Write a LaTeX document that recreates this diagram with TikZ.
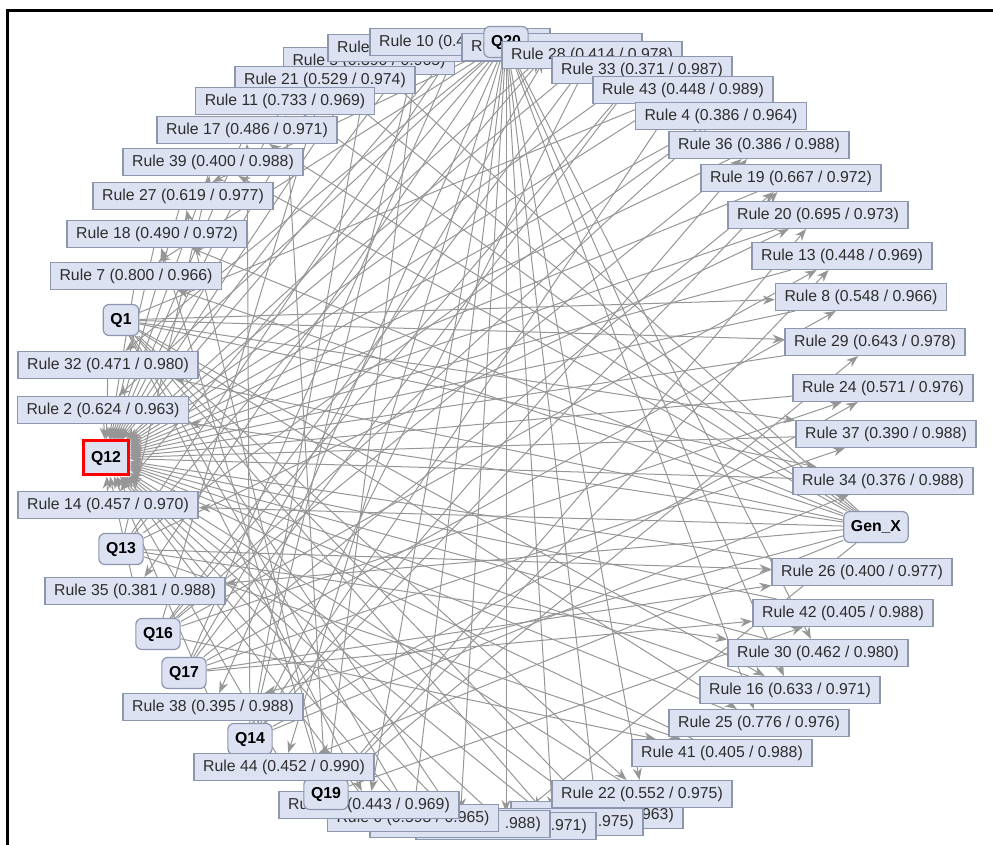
\documentclass[tikz,border=0pt]{standalone}
\usepackage{fontspec}
\setmainfont{Liberation Sans}
\usetikzlibrary{arrows.meta,backgrounds}
\definecolor{boxfill}{RGB}{221,226,242}
\definecolor{boxline}{RGB}{140,150,175}
\definecolor{edgegray}{RGB}{150,150,150}
\definecolor{textgray}{RGB}{45,45,45}
\begin{document}
\begin{tikzpicture}[x=0.5pt,y=-0.5pt,
    rulebox/.style={draw=boxline, fill=boxfill, line width=0.6pt, text=textgray,
      font=\fontsize{7.9}{9}\selectfont, inner xsep=4.6pt, inner ysep=2.8pt,
      text height=6pt, text depth=1.8pt},
    qbox/.style={rulebox, rounded corners=3pt, text=black,
      font=\fontsize{7.9}{9}\selectfont\bfseries, inner xsep=3.6pt, minimum height=15.5pt},
    cutright/.style={text width=80.8pt, align=right},
    cutleft/.style={text width=80.8pt, align=left},
    edge/.style={draw=edgegray, line width=0.5pt, -{Stealth[length=6pt,width=4.5pt]}}]
  \useasboundingbox (0,0) rectangle (993,845);

  % Frame
  \draw[line width=1.5pt] (7,845) -- (7,11) -- (993,11);

  % Top cluster
  \node[rulebox] (r5) at (369,61) {Rule 5 (0.390 / 0.965)};
  \node[rulebox, cutleft] (r9) at (418,48) {Rule};
  \node[rulebox] (r10) at (460,42) {Rule 10 (0.448 / 0.970)};
  \node[rulebox, cutleft] (r1) at (552,47) {Rule};
  \node[qbox] (q20) at (506,42) {Q20};
  \node[rulebox] (r28) at (592,55) {Rule 28 (0.414 / 0.978)};
  \node[rulebox] (r33) at (642,70) {Rule 33 (0.371 / 0.987)};
  \node[rulebox] (r43) at (683,90) {Rule 43 (0.448 / 0.989)};
  \node[rulebox] (r4) at (721,116) {Rule 4 (0.386 / 0.964)};
  \node[rulebox] (r21) at (325,80) {Rule 21 (0.529 / 0.974)};
  \node[rulebox] (r11) at (285,101) {Rule 11 (0.733 / 0.969)};

  % Left side
  \node[rulebox] (r17) at (247,130) {Rule 17 (0.486 / 0.971)};
  \node[rulebox] (r39) at (213,162) {Rule 39 (0.400 / 0.988)};
  \node[rulebox] (r27) at (183,196) {Rule 27 (0.619 / 0.977)};
  \node[rulebox] (r18) at (157,234) {Rule 18 (0.490 / 0.972)};
  \node[rulebox] (r7) at (136,276) {Rule 7 (0.800 / 0.966)};
  \node[qbox] (q1) at (121,320) {Q1};
  \node[rulebox] (r32) at (108,365) {Rule 32 (0.471 / 0.980)};
  \node[rulebox] (r2) at (103,410) {Rule 2 (0.624 / 0.963)};
  \node[qbox, draw=red, line width=1.5pt, sharp corners, minimum height=17pt] (q12) at (106,458) {Q12};
  \node[rulebox] (r14) at (108,505) {Rule 14 (0.457 / 0.970)};
  \node[qbox] (q13) at (121,549) {Q13};
  \node[rulebox] (r35) at (135,591) {Rule 35 (0.381 / 0.988)};
  \node[qbox] (q16) at (158,634) {Q16};
  \node[qbox] (q17) at (184,673) {Q17};
  \node[rulebox] (r38) at (213,707) {Rule 38 (0.395 / 0.988)};
  \node[qbox] (q14) at (250,739) {Q14};

  % Bottom cluster
  \node[rulebox, cutright, text width=76.8pt] (r3) at (597,815) {963)};
  \node[rulebox] (r22) at (642,794) {Rule 22 (0.552 / 0.975)};
  \node[rulebox, cutright] (r15) at (553,822) {.975)};
  \node[rulebox, cutright] (r23) at (506,826) {.971)};
  \node[rulebox, cutright] (r40) at (460,824) {.988)};
  \node[rulebox] (r6) at (413,818) {Rule 6 (0.593 / 0.965)};
  \node[rulebox] (r12) at (369,805) {Rule 12 (0.443 / 0.969)};
  \node[qbox] (q19) at (326,794) {Q19};
  \node[rulebox] (r44) at (284,767) {Rule 44 (0.452 / 0.990)};

  % Right side
  \node[rulebox] (r36) at (759,145) {Rule 36 (0.386 / 0.988)};
  \node[rulebox] (r19) at (791,178) {Rule 19 (0.667 / 0.972)};
  \node[rulebox] (r20) at (818,215) {Rule 20 (0.695 / 0.973)};
  \node[rulebox] (r13) at (842,256) {Rule 13 (0.448 / 0.969)};
  \node[rulebox] (r8) at (861,297) {Rule 8 (0.548 / 0.966)};
  \node[rulebox] (r29) at (875,342) {Rule 29 (0.643 / 0.978)};
  \node[rulebox] (r24) at (883,388) {Rule 24 (0.571 / 0.976)};
  \node[rulebox] (r37) at (886,434) {Rule 37 (0.390 / 0.988)};
  \node[rulebox] (r34) at (883,481) {Rule 34 (0.376 / 0.988)};
  \node[qbox] (genx) at (876,527) {Gen\_X};
  \node[rulebox] (r26) at (862,572) {Rule 26 (0.400 / 0.977)};
  \node[rulebox] (r42) at (843,613) {Rule 42 (0.405 / 0.988)};
  \node[rulebox] (r30) at (818,653) {Rule 30 (0.462 / 0.980)};
  \node[rulebox] (r16) at (790,690) {Rule 16 (0.633 / 0.971)};
  \node[rulebox] (r25) at (759,723) {Rule 25 (0.776 / 0.976)};
  \node[rulebox] (r41) at (722,753) {Rule 41 (0.405 / 0.988)};

  \begin{scope}[on background layer]
    % Every rule points to Q12
    \foreach \r in {1,...,30,32,33,...,44}
      \draw[edge] (r\r) -- (q12);
    % Items into the rules
    \foreach \a/\b in {q13/r1, q17/r1, q20/r2, genx/r2, q1/r3, q20/r3, q13/r4, q16/r4,
        q14/r5, genx/r5, q20/r6, q1/r6, q20/r7, genx/r7, q1/r8, q17/r8, q19/r9, q14/r9,
        q17/r10, q13/r10, q19/r11, genx/r11, q20/r12, q1/r12, q16/r13, q19/r13,
        q20/r14, genx/r14, q1/r15, q20/r15, q1/r16, q20/r16, q14/r17, genx/r17,
        q19/r18, genx/r18, q17/r19, q14/r19, q13/r20, q19/r20, q16/r21, genx/r21,
        q20/r22, q1/r22, q20/r23, genx/r23, q16/r24, q14/r24, q1/r25, q20/r25,
        q13/r26, q17/r26, q19/r27, q20/r27, q14/r28, q16/r28, q1/r29, q19/r29,
        q13/r30, q20/r30, q20/r32, genx/r32, q17/r33, q16/r33, q14/r34, q1/r34,
        q20/r35, genx/r35, q16/r36, q14/r36, q1/r37, q17/r37, q20/r38, genx/r38,
        q13/r39, genx/r39, q20/r40, q1/r40, q13/r41, q16/r41, q17/r42, q19/r42,
        q1/r43, q14/r43, q20/r44, genx/r44}
      \draw[edge] (\a) -- (\b);
  \end{scope}
\end{tikzpicture}
\end{document}
